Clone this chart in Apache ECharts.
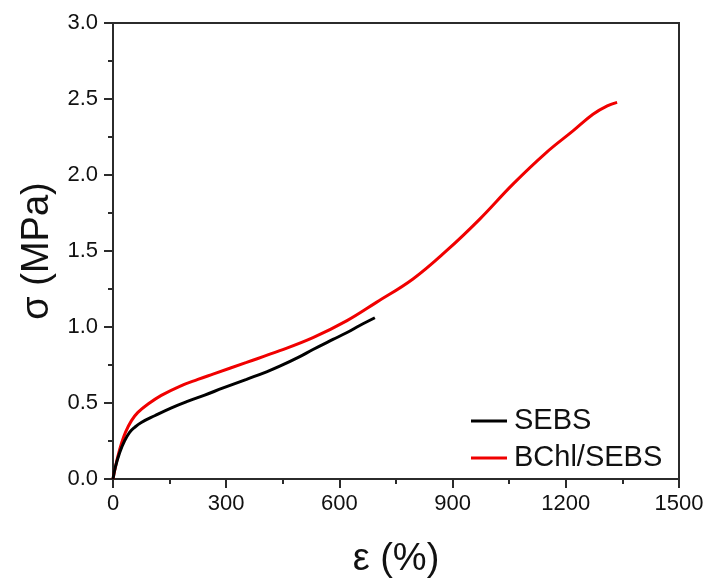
<!DOCTYPE html>
<html>
<head>
<meta charset="utf-8">
<script src="https://cdn.jsdelivr.net/npm/echarts@6/dist/echarts.min.js"></script>
<style>
  html, body { margin: 0; padding: 0; background: #fff; }
  #chart { width: 710px; height: 580px; }
</style>
</head>
<body>
<div id="chart"></div>
<script>
// Stress–strain curves (strain in %, stress in MPa)
const strainSEBS = [0, 6, 17.8, 31, 44, 57.5, 75, 110.5, 155, 199, 243, 292, 354, 407, 442, 495, 530, 583, 619, 654, 694];
const stressSEBS = [0, 0.076, 0.175, 0.252, 0.307, 0.34, 0.372, 0.416, 0.468, 0.512, 0.552, 0.599, 0.656, 0.705, 0.742, 0.805, 0.852, 0.918, 0.962, 1.01, 1.061];

const strainBChl = [0, 6.2, 13.4, 22, 33, 49, 66, 93, 128, 177, 225, 265, 354, 442, 530, 619, 698, 795, 884, 972, 1060, 1149, 1219, 1272, 1310, 1336];
const stressBChl = [0, 0.076, 0.153, 0.23, 0.307, 0.384, 0.438, 0.493, 0.55, 0.61, 0.655, 0.69, 0.767, 0.844, 0.93, 1.04, 1.162, 1.316, 1.502, 1.71, 1.94, 2.149, 2.29, 2.40, 2.455, 2.478];

const seriesNames = ['SEBS', 'BChl/SEBS'];
const xTicks = { min: 0, max: 1500, interval: 300 };
const yTicks = { min: 0, max: 3, interval: 0.5 };

const pairs = (xs, ys) => xs.map((x, i) => [x, ys[i]]);

const axisColor = '#2b2b2b';
const font = 'Liberation Sans, Arial, sans-serif';

const chart = echarts.init(document.getElementById('chart'));
chart.setOption({
  animation: false,
  backgroundColor: '#fff',
  grid: {
    left: 113, right: 31, top: 23, bottom: 101,
    outerBoundsMode: 'none',
    show: true, borderColor: axisColor, borderWidth: 2, backgroundColor: 'transparent'
  },
  legend: {
    orient: 'vertical',
    left: 471, top: 406,
    padding: 0,
    itemGap: 7,
    itemWidth: 36, itemHeight: 3,
    icon: 'rect',
    textStyle: { fontFamily: font, fontSize: 29, color: '#111', lineHeight: 30, padding: [0, 0, 0, 2] },
    data: seriesNames
  },
  xAxis: {
    type: 'value',
    min: xTicks.min, max: xTicks.max, interval: xTicks.interval,
    name: 'ε (%)', nameLocation: 'middle', nameGap: 62,
    nameTextStyle: { fontFamily: font, fontSize: 38, color: '#111' },
    axisLine: { show: true, lineStyle: { color: axisColor, width: 2 } },
    axisTick: { show: true, length: 9, lineStyle: { color: axisColor, width: 2 } },
    minorTick: { show: true, splitNumber: 2, length: 5, lineStyle: { color: axisColor, width: 2 } },
    splitLine: { show: false },
    axisLabel: { fontFamily: font, fontSize: 22, color: '#111', margin: 14, formatter: v => String(v) }
  },
  yAxis: {
    type: 'value',
    min: yTicks.min, max: yTicks.max, interval: yTicks.interval,
    name: 'σ (MPa)', nameLocation: 'middle', nameGap: 56,
    nameTextStyle: { fontFamily: font, fontSize: 38, color: '#111' },
    axisLine: { show: true, lineStyle: { color: axisColor, width: 2 } },
    axisTick: { show: true, length: 9, lineStyle: { color: axisColor, width: 2 } },
    minorTick: { show: true, splitNumber: 2, length: 5, lineStyle: { color: axisColor, width: 2 } },
    splitLine: { show: false },
    axisLabel: { fontFamily: font, fontSize: 22, color: '#111', margin: 15, formatter: v => v.toFixed(1) }
  },
  series: [
    {
      name: seriesNames[0], type: 'line', smooth: 0.4, showSymbol: false,
      data: pairs(strainSEBS, stressSEBS),
      lineStyle: { color: '#000', width: 3 }, itemStyle: { color: '#000' }, z: 3
    },
    {
      name: seriesNames[1], type: 'line', smooth: 0.4, showSymbol: false,
      data: pairs(strainBChl, stressBChl),
      lineStyle: { color: '#f00000', width: 3 }, itemStyle: { color: '#f00000' }, z: 2
    }
  ]
});
</script>
</body>
</html>
